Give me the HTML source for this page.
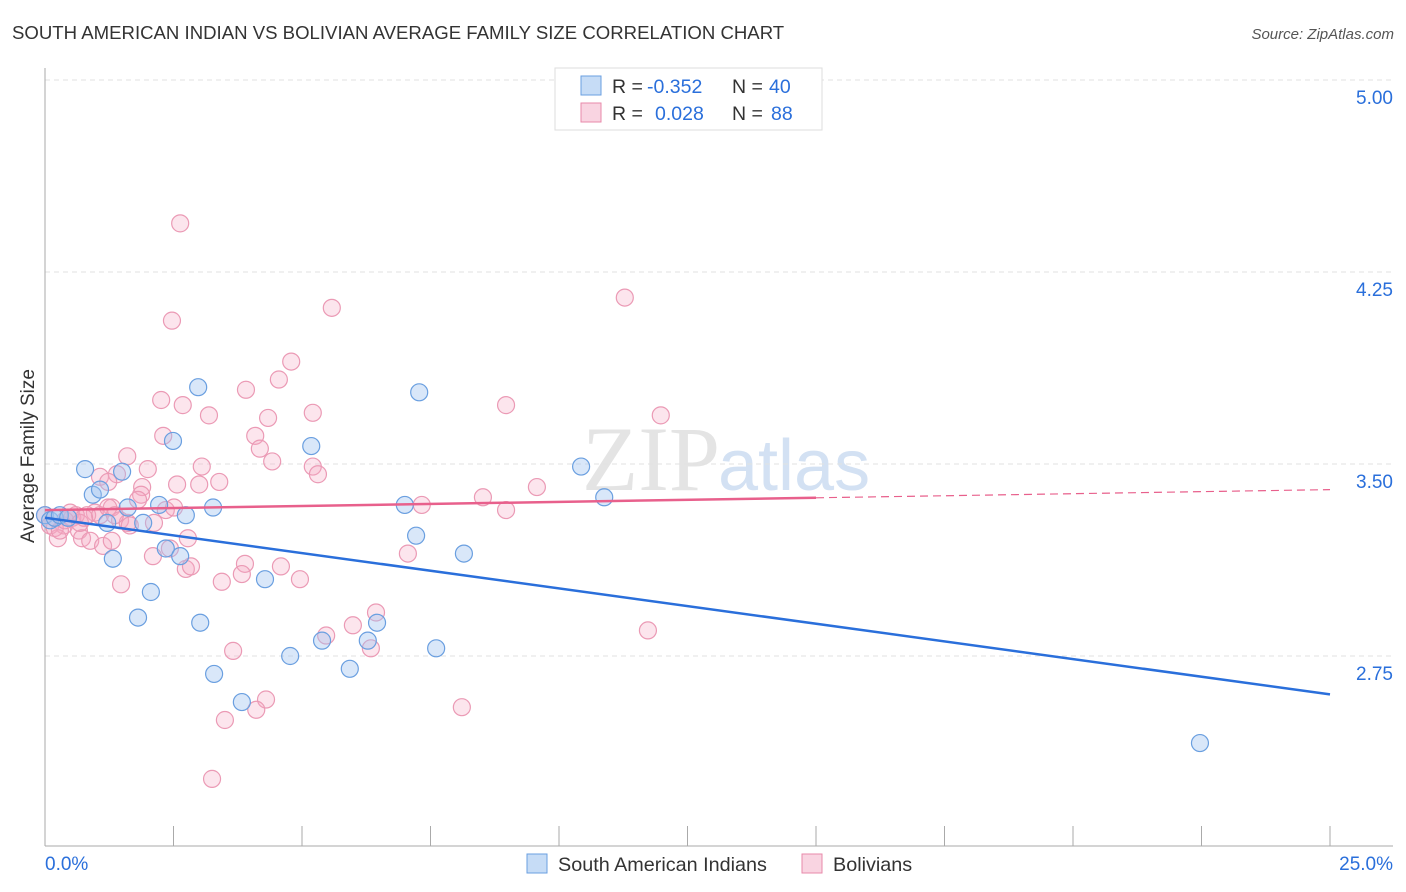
<!DOCTYPE html>
<html><head><meta charset="utf-8"><style>
body{margin:0;background:#fff;font-family:"Liberation Sans",sans-serif;}
#c{position:absolute;left:0;top:0;}
</style></head><body>
<svg id="c" width="1406" height="892" xmlns="http://www.w3.org/2000/svg">
<text x="12" y="39" font-size="18.6" fill="#333">SOUTH AMERICAN INDIAN VS BOLIVIAN AVERAGE FAMILY SIZE CORRELATION CHART</text>
<text x="1394" y="39" font-size="15" fill="#555" font-style="italic" text-anchor="end">Source: ZipAtlas.com</text>
<text x="720" y="490" font-size="92" fill="#e4e4e4" text-anchor="end" font-family="Liberation Serif">ZIP</text>
<text x="718" y="490" font-size="72" fill="#d3e1f3">atlas</text>
<g id="grid"></g><g id="axes"></g><g id="pts"></g><g id="lines"></g>
<text x="34" y="456" font-size="19" fill="#333" text-anchor="middle" transform="rotate(-90 34 456)">Average Family Size</text>
<g>
<rect x="555" y="68" width="267" height="62" fill="#fff" stroke="#ddd"/>
<rect x="581" y="76" width="20" height="19" fill="rgba(160,196,240,0.6)" stroke="#6a9fe0"/>
<rect x="581" y="103" width="20" height="19" fill="rgba(244,170,195,0.5)" stroke="#e88aaa"/>
<text x="612" y="93" font-size="19.5" fill="#333">R =</text>
<text x="647" y="93" font-size="19.5" fill="#2a6fdb">-0.352</text>
<text x="732" y="93" font-size="19.5" fill="#333">N =</text>
<text x="769" y="93" font-size="19.5" fill="#2a6fdb">40</text>
<text x="612" y="120" font-size="19.5" fill="#333">R =</text>
<text x="655" y="120" font-size="19.5" fill="#2a6fdb">0.028</text>
<text x="732" y="120" font-size="19.5" fill="#333">N =</text>
<text x="771" y="120" font-size="19.5" fill="#2a6fdb">88</text>
</g>
<g>
<rect x="527" y="854" width="20" height="19" fill="rgba(160,196,240,0.6)" stroke="#6a9fe0"/>
<text x="558" y="871" font-size="19.8" fill="#333">South American Indians</text>
<rect x="802" y="854" width="20" height="19" fill="rgba(244,170,195,0.5)" stroke="#e88aaa"/>
<text x="833" y="871" font-size="19.8" fill="#333">Bolivians</text>
</g>
</svg>
<script>
const yTicks=[2.75,3.50,4.25,5.00];
const xTickLabels=["0.0%","25.0%"];
const blueX=[0,0.1,0.19,0.29,0.45,0.78,0.93,1.07,1.21,1.32,1.5,1.61,1.81,1.91,2.06,2.22,2.35,2.49,2.63,2.74,2.98,3.02,3.27,3.29,3.83,4.28,4.77,5.18,5.39,5.93,6.28,6.46,7.0,7.22,7.28,7.61,8.15,10.43,10.88,22.47];
const blueY=[3.30,3.28,3.29,3.30,3.29,3.48,3.38,3.40,3.27,3.13,3.47,3.33,2.90,3.27,3.00,3.34,3.17,3.59,3.14,3.30,3.80,2.88,3.33,2.68,2.57,3.05,2.75,3.57,2.81,2.70,2.81,2.88,3.34,3.22,3.78,2.78,3.15,3.49,3.37,2.41];
const pinkX=[2.63,2.47,5.58,11.28,4.79,4.55,3.91,2.26,2.68,3.19,4.34,5.21,8.97,11.98,2.30,4.09,4.18,1.60,4.42,2.00,3.05,5.21,5.31,1.07,1.40,1.23,3.39,1.89,2.57,1.87,3.00,9.57,8.52,1.30,1.81,0.97,2.35,2.51,8.97,7.33,0.82,1.07,1.46,1.61,2.12,0.53,0.37,0.66,0.72,0.88,0.25,1.13,1.30,2.78,2.10,2.43,2.74,2.84,3.89,4.59,7.06,1.48,3.44,3.83,4.96,6.44,5.99,5.47,6.34,3.66,11.73,4.30,4.11,3.50,3.25,8.11,0,0.1,0.19,0.29,0.39,0.49,0.6,0.68,0.76,1.65,1.23,1.36];
const pinkY=[4.44,4.06,4.11,4.15,3.90,3.83,3.79,3.75,3.73,3.69,3.68,3.70,3.73,3.69,3.61,3.61,3.56,3.53,3.51,3.48,3.49,3.49,3.46,3.45,3.46,3.43,3.43,3.41,3.42,3.38,3.42,3.41,3.37,3.33,3.36,3.31,3.32,3.33,3.32,3.34,3.30,3.30,3.28,3.27,3.27,3.29,3.26,3.24,3.21,3.20,3.21,3.18,3.20,3.21,3.14,3.17,3.09,3.10,3.11,3.10,3.15,3.03,3.04,3.07,3.05,2.92,2.87,2.83,2.78,2.77,2.85,2.58,2.54,2.50,2.27,2.55,3.30,3.26,3.25,3.24,3.28,3.31,3.30,3.27,3.29,3.26,3.33,3.30];
const blueTrend=[3.29,2.60];
const pinkTrend=[3.32,3.40];
const pinkSolidEnd=15;
const NS="http://www.w3.org/2000/svg";
const X=v=>45+v*51.4, Y=v=>80+(5-v)*256;
function mk(t,a,p){const e=document.createElementNS(NS,t);for(const k in a)e.setAttribute(k,a[k]);p.appendChild(e);return e;}
const grid=document.getElementById('grid'),axes=document.getElementById('axes');
yTicks.forEach(t=>{
 const l=mk('line',{x1:45,x2:1393,y1:Y(t),y2:Y(t),stroke:'#e2e2e2','stroke-dasharray':'5,4'},grid);
 
 
 const tx=mk('text',{x:1393,y:Y(t)+24,'font-size':19,fill:'#2a6fdb','text-anchor':'end'},axes);tx.textContent=t.toFixed(2);
 
 
});
mk('line',{x1:45,x2:45,y1:68,y2:846,stroke:'#aaa'},axes);
mk('line',{x1:45,x2:1393,y1:846,y2:846,stroke:'#aaa'},axes);
for(let i=0;i<=10;i++){mk('line',{x1:X(i*2.5),x2:X(i*2.5),y1:826,y2:846,stroke:'#aaa'},axes);}
let t1=mk('text',{x:45,y:870,'font-size':19,fill:'#2a6fdb'},axes);t1.textContent=xTickLabels[0];


let t2=mk('text',{x:1393,y:870,'font-size':19,fill:'#2a6fdb','text-anchor':'end'},axes);t2.textContent=xTickLabels[1];


const pts=document.getElementById('pts');
pinkX.forEach((v,i)=>{const c=mk('circle',{cx:X(v),cy:Y(pinkY[i]),r:8.5,fill:'rgba(244,170,195,0.3)',stroke:'#eb9ab5','stroke-width':1.2},pts);
 
 });
blueX.forEach((v,i)=>{const c=mk('circle',{cx:X(v),cy:Y(blueY[i]),r:8.5,fill:'rgba(160,196,240,0.4)',stroke:'#6a9fe0','stroke-width':1.2},pts);
 
 });
const lines=document.getElementById('lines');
const pv=x=>pinkTrend[0]+(pinkTrend[1]-pinkTrend[0])*x/25;
let bl=mk('line',{x1:X(0),y1:Y(blueTrend[0]),x2:X(25),y2:Y(blueTrend[1]),stroke:'#2a6fdb','stroke-width':2.5},lines);


let pl=mk('line',{x1:X(0),y1:Y(pv(0)),x2:X(pinkSolidEnd),y2:Y(pv(pinkSolidEnd)),stroke:'#e8608c','stroke-width':2.5},lines);


let pd=mk('line',{x1:X(pinkSolidEnd),y1:Y(pv(pinkSolidEnd)),x2:X(25),y2:Y(pv(25)),stroke:'#e8608c','stroke-width':1.2,'stroke-dasharray':'8,5'},lines);


</script>
</body></html>
